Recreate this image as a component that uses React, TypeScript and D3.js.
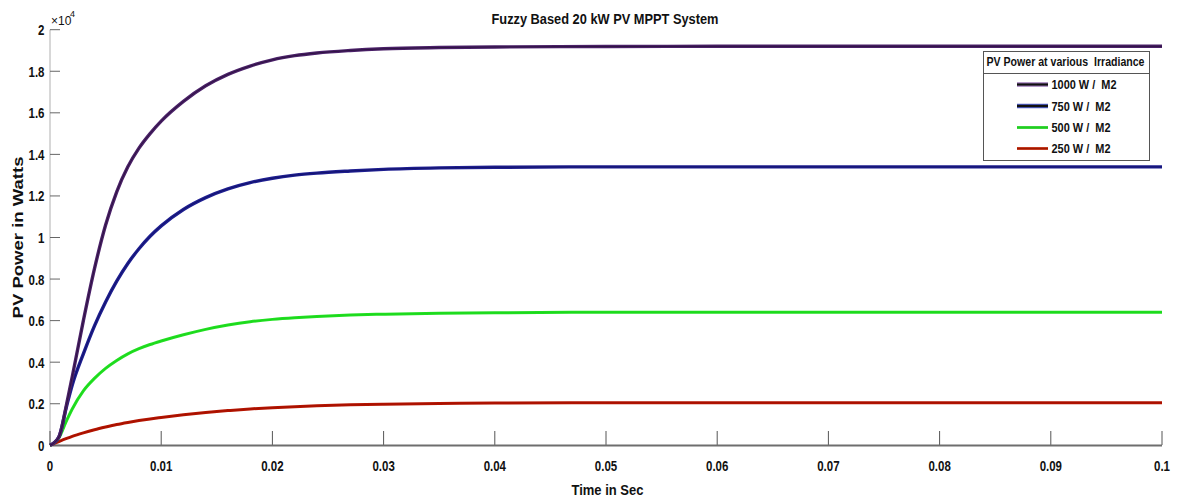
import React from "react";
import * as d3 from "d3";

const TIME = [0, 0.0008, 0.0015, 0.002, 0.003, 0.004, 0.005, 0.006, 0.007, 0.008, 0.009, 0.010, 0.012, 0.014, 0.016, 0.018, 0.020, 0.022, 0.024, 0.027, 0.030, 0.035, 0.040, 0.050, 0.060, 0.070, 0.080, 0.090, 0.100];
const P1000 = [0, 0.04, 0.2, 0.33, 0.60, 0.85, 1.06, 1.22, 1.34, 1.43, 1.50, 1.56, 1.655, 1.73, 1.785, 1.825, 1.855, 1.875, 1.888, 1.90, 1.908, 1.914, 1.917, 1.919, 1.92, 1.92, 1.92, 1.92, 1.92];
const P750 = [0, 0.04, 0.19, 0.29, 0.44, 0.575, 0.69, 0.79, 0.875, 0.946, 1.006, 1.056, 1.135, 1.192, 1.234, 1.264, 1.285, 1.30, 1.31, 1.32, 1.328, 1.335, 1.338, 1.34, 1.34, 1.34, 1.34, 1.34, 1.34];
const P500 = [0, 0.035, 0.12, 0.175, 0.262, 0.322, 0.37, 0.408, 0.44, 0.465, 0.485, 0.502, 0.532, 0.558, 0.579, 0.595, 0.606, 0.614, 0.62, 0.627, 0.631, 0.636, 0.638, 0.64, 0.64, 0.64, 0.64, 0.64, 0.64];
const P250 = [0, 0.018, 0.033, 0.043, 0.06, 0.075, 0.088, 0.1, 0.11, 0.119, 0.127, 0.134, 0.147, 0.158, 0.167, 0.175, 0.181, 0.186, 0.19, 0.195, 0.198, 0.201, 0.203, 0.205, 0.205, 0.205, 0.205, 0.205, 0.205];

const X_TICKS = [0, 0.01, 0.02, 0.03, 0.04, 0.05, 0.06, 0.07, 0.08, 0.09, 0.1];
const X_LABELS = ["0", "0.01", "0.02", "0.03", "0.04", "0.05", "0.06", "0.07", "0.08", "0.09", "0.1"];
const Y_TICKS = [0, 0.2, 0.4, 0.6, 0.8, 1, 1.2, 1.4, 1.6, 1.8, 2];
const Y_LABELS = ["0", "0.2", "0.4", "0.6", "0.8", "1", "1.2", "1.4", "1.6", "1.8", "2"];

const LEGEND_LABELS = ["1000 W /  M2", "750 W /  M2", "500 W /  M2", "250 W /  M2"];

const FONT = "'Liberation Sans', Arial, sans-serif";

function NText(props: { x: number; y: number; anchor?: string; size: number; sx?: number; weight?: string; children: React.ReactNode }) {
  const { x, y, anchor = "start", size, sx = 0.82, weight = "bold", children } = props;
  return (
    <text
      transform={`translate(${x},${y}) scale(${sx},1)`}
      textAnchor={anchor}
      fontSize={size}
      fontWeight={weight}
      fontFamily={FONT}
      fill="#111"
      style={{ whiteSpace: "pre" }}
    >
      {children}
    </text>
  );
}

export default function App() {
  const W = 1184, H = 504;
  const x = d3.scaleLinear().domain([0, 0.1]).range([50, 1162]);
  const y = d3.scaleLinear().domain([0, 2]).range([445.3, 29.7]);

  const line = (vals: number[]) =>
    d3.line<number>()
      .x((_, i) => x(TIME[i]))
      .y((v) => y(v))
      .curve(d3.curveMonotoneX)(vals) || "";

  const series = [
    { vals: P250, outer: "#b51500", inner: "#9a0e00", w: 3 },
    { vals: P500, outer: "#22e022", inner: "#18d018", w: 3 },
    { vals: P750, outer: "#1e1e90", inner: "#0c0c55", w: 3.4 },
    { vals: P1000, outer: "#4a2068", inner: "#1c0c28", w: 3.4 },
  ];

  const legendX = 983.5, legendY = 51.5, legendW = 166, legendH = 109;
  const rowsY = [84.5, 106, 127.5, 148.5];
  const legendLines = [
    { outer: "#9d78b8", inner: "#111", ow: 4.5, iw: 2.2 },
    { outer: "#5060cc", inner: "#111", ow: 4.5, iw: 2.4 },
    { outer: "#28d828", inner: "#22cc22", ow: 2.6, iw: 2 },
    { outer: "#d04a30", inner: "#a01800", ow: 3, iw: 1.6 },
  ];

  return (
    <div style={{ position: "fixed", left: 0, top: 0 }}>
      <svg width={W} height={H} viewBox={`0 0 ${W} ${H}`} style={{ display: "block", background: "#fff" }}>
        <rect x={0} y={0} width={W} height={H} fill="#fff" />

        <text x={605} y={24} textAnchor="middle" fontSize={14} fontWeight="bold" fontFamily={FONT} fill="#111" textLength={227} lengthAdjust="spacingAndGlyphs">
          Fuzzy Based 20 kW PV MPPT System
        </text>

        <line x1={50} x2={50} y1={y(2)} y2={y(0)} stroke="#b0b0b0" strokeWidth={1} />
        {Y_TICKS.map((t, i) => (
          <g key={"yt" + i}>
            <line x1={50} x2={60} y1={y(t)} y2={y(t)} stroke="#666" strokeWidth={1} />
            <NText x={44.5} y={y(t) + 5.5} anchor="end" size={14}>{Y_LABELS[i]}</NText>
          </g>
        ))}
        <text x={51} y={25} fontSize={12} fontFamily={FONT} fill="#111">×10</text>
        <text x={70} y={17} fontSize={9} fontFamily={FONT} fill="#111">4</text>

        {X_TICKS.map((t, i) => (
          <g key={"xt" + i}>
            <line x1={x(t)} x2={x(t)} y1={445} y2={431} stroke="#555" strokeWidth={1} />
            <NText x={x(t)} y={470.5} anchor="middle" size={14}>{X_LABELS[i]}</NText>
          </g>
        ))}
        <line x1={50} x2={1162} y1={445.5} y2={445.5} stroke="#6e6e6e" strokeWidth={2} />

        {series.map((s, i) => (
          <g key={"s" + i}>
            <path d={line(s.vals)} fill="none" stroke={s.outer} strokeWidth={s.w} strokeLinejoin="round" />
            <path d={line(s.vals)} fill="none" stroke={s.inner} strokeWidth={1} strokeLinejoin="round" opacity={0.6} />
          </g>
        ))}

        <text x={607.5} y={495} textAnchor="middle" fontSize={15} fontWeight="bold" fontFamily={FONT} fill="#111" textLength={72} lengthAdjust="spacingAndGlyphs">
          Time in Sec
        </text>
        <text transform="translate(22.5,237.5) rotate(-90)" textAnchor="middle" fontSize={15} fontWeight="bold" fontFamily={FONT} fill="#111" textLength={162} lengthAdjust="spacingAndGlyphs">
          PV Power in Watts
        </text>

        <rect x={legendX} y={legendY} width={legendW} height={legendH} fill="#fff" stroke="#555" strokeWidth={1} />
        <line x1={legendX} x2={legendX + legendW} y1={73.5} y2={73.5} stroke="#555" strokeWidth={1} />
        <text x={986.5} y={66} fontSize={13} fontWeight="bold" fontFamily={FONT} fill="#111" textLength={158} lengthAdjust="spacingAndGlyphs" style={{ whiteSpace: "pre" }}>
          PV Power at various  Irradiance
        </text>
        {LEGEND_LABELS.map((lab, i) => (
          <g key={"lg" + i}>
            <line x1={1017} x2={1048} y1={rowsY[i]} y2={rowsY[i]} stroke={legendLines[i].outer} strokeWidth={legendLines[i].ow} />
            <line x1={1017} x2={1048} y1={rowsY[i]} y2={rowsY[i]} stroke={legendLines[i].inner} strokeWidth={legendLines[i].iw} />
            <text x={1051.5} y={rowsY[i] + 4.5} fontSize={12} fontWeight="bold" fontFamily={FONT} fill="#111" textLength={i === 0 ? 65 : 59} lengthAdjust="spacingAndGlyphs" style={{ whiteSpace: "pre" }}>
              {lab}
            </text>
          </g>
        ))}
      </svg>
    </div>
  );
}
